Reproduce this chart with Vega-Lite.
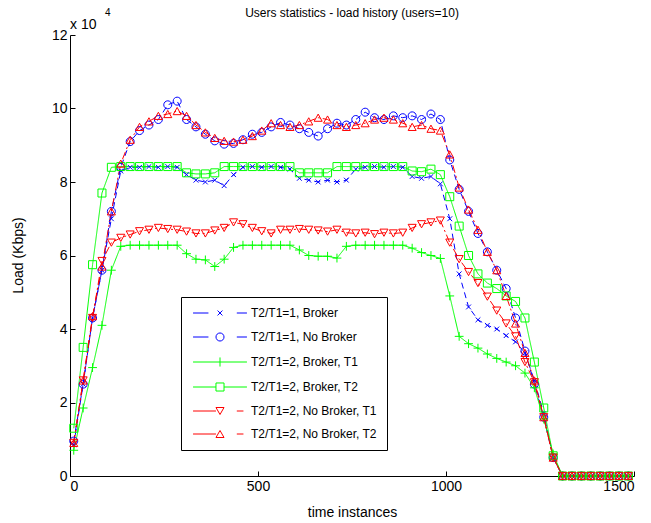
{
 "$schema": "https://vega.github.io/schema/vega-lite/v6.json",
 "width": 564, "height": 441,
 "autosize": {"type": "none"},
 "padding": {"left": 70, "top": 35, "right": 17, "bottom": 47},
 "background": "white",
 "config": {
  "view": {"stroke": null},
  "font": "Liberation Sans",
  "axis": {"grid": false, "domainColor": "black", "tickColor": "black", "labelColor": "black", "titleColor": "black", "labelFont": "Liberation Sans", "titleFont": "Liberation Sans", "labelFontSize": 14, "titleFontSize": 14, "titleFontWeight": "normal", "tickSize": -5, "domainWidth": 1, "tickWidth": 1}
 },
 "datasets": {
  "load": [
   {"s":"T2/T1=1, Broker","t":10,"v":8500},{"s":"T2/T1=1, Broker","t":35,"v":25000},{"s":"T2/T1=1, Broker","t":60,"v":43000},{"s":"T2/T1=1, Broker","t":85,"v":56000},{"s":"T2/T1=1, Broker","t":110,"v":70000},{"s":"T2/T1=1, Broker","t":135,"v":83000},{"s":"T2/T1=1, Broker","t":160,"v":84000},{"s":"T2/T1=1, Broker","t":185,"v":84000},{"s":"T2/T1=1, Broker","t":210,"v":84200},{"s":"T2/T1=1, Broker","t":235,"v":84000},{"s":"T2/T1=1, Broker","t":260,"v":84200},{"s":"T2/T1=1, Broker","t":285,"v":84000},{"s":"T2/T1=1, Broker","t":310,"v":82000},{"s":"T2/T1=1, Broker","t":335,"v":80500},{"s":"T2/T1=1, Broker","t":360,"v":80000},{"s":"T2/T1=1, Broker","t":385,"v":80500},{"s":"T2/T1=1, Broker","t":410,"v":79000},{"s":"T2/T1=1, Broker","t":435,"v":82000},{"s":"T2/T1=1, Broker","t":460,"v":84000},{"s":"T2/T1=1, Broker","t":485,"v":84200},{"s":"T2/T1=1, Broker","t":510,"v":84000},{"s":"T2/T1=1, Broker","t":535,"v":84200},{"s":"T2/T1=1, Broker","t":560,"v":84000},{"s":"T2/T1=1, Broker","t":585,"v":83500},{"s":"T2/T1=1, Broker","t":610,"v":81000},{"s":"T2/T1=1, Broker","t":635,"v":80500},{"s":"T2/T1=1, Broker","t":660,"v":80000},{"s":"T2/T1=1, Broker","t":685,"v":80500},{"s":"T2/T1=1, Broker","t":710,"v":80000},{"s":"T2/T1=1, Broker","t":735,"v":80500},{"s":"T2/T1=1, Broker","t":760,"v":83500},{"s":"T2/T1=1, Broker","t":785,"v":84000},{"s":"T2/T1=1, Broker","t":810,"v":84200},{"s":"T2/T1=1, Broker","t":835,"v":84000},{"s":"T2/T1=1, Broker","t":860,"v":84200},{"s":"T2/T1=1, Broker","t":885,"v":84000},{"s":"T2/T1=1, Broker","t":910,"v":81500},{"s":"T2/T1=1, Broker","t":935,"v":81000},{"s":"T2/T1=1, Broker","t":960,"v":81500},{"s":"T2/T1=1, Broker","t":985,"v":79500},{"s":"T2/T1=1, Broker","t":1010,"v":70000},{"s":"T2/T1=1, Broker","t":1035,"v":55000},{"s":"T2/T1=1, Broker","t":1060,"v":46000},{"s":"T2/T1=1, Broker","t":1085,"v":42500},{"s":"T2/T1=1, Broker","t":1110,"v":41000},{"s":"T2/T1=1, Broker","t":1135,"v":40000},{"s":"T2/T1=1, Broker","t":1160,"v":38200},{"s":"T2/T1=1, Broker","t":1185,"v":36500},{"s":"T2/T1=1, Broker","t":1210,"v":33500},{"s":"T2/T1=1, Broker","t":1235,"v":26000},{"s":"T2/T1=1, Broker","t":1260,"v":17000},{"s":"T2/T1=1, Broker","t":1285,"v":5000},{"s":"T2/T1=1, Broker","t":1310,"v":0},{"s":"T2/T1=1, Broker","t":1335,"v":0},{"s":"T2/T1=1, Broker","t":1360,"v":0},{"s":"T2/T1=1, Broker","t":1385,"v":0},{"s":"T2/T1=1, Broker","t":1410,"v":0},{"s":"T2/T1=1, Broker","t":1435,"v":0},{"s":"T2/T1=1, Broker","t":1460,"v":0},{"s":"T2/T1=1, Broker","t":1485,"v":0},
   {"s":"T2/T1=1, No Broker","t":10,"v":9500},{"s":"T2/T1=1, No Broker","t":35,"v":25000},{"s":"T2/T1=1, No Broker","t":60,"v":43000},{"s":"T2/T1=1, No Broker","t":85,"v":56000},{"s":"T2/T1=1, No Broker","t":110,"v":72000},{"s":"T2/T1=1, No Broker","t":135,"v":84000},{"s":"T2/T1=1, No Broker","t":160,"v":91000},{"s":"T2/T1=1, No Broker","t":185,"v":94000},{"s":"T2/T1=1, No Broker","t":210,"v":95500},{"s":"T2/T1=1, No Broker","t":235,"v":97000},{"s":"T2/T1=1, No Broker","t":260,"v":101000},{"s":"T2/T1=1, No Broker","t":285,"v":102000},{"s":"T2/T1=1, No Broker","t":310,"v":97000},{"s":"T2/T1=1, No Broker","t":335,"v":95000},{"s":"T2/T1=1, No Broker","t":360,"v":93000},{"s":"T2/T1=1, No Broker","t":385,"v":91200},{"s":"T2/T1=1, No Broker","t":410,"v":90300},{"s":"T2/T1=1, No Broker","t":435,"v":90500},{"s":"T2/T1=1, No Broker","t":460,"v":91500},{"s":"T2/T1=1, No Broker","t":485,"v":93000},{"s":"T2/T1=1, No Broker","t":510,"v":93500},{"s":"T2/T1=1, No Broker","t":535,"v":95000},{"s":"T2/T1=1, No Broker","t":560,"v":96200},{"s":"T2/T1=1, No Broker","t":585,"v":95500},{"s":"T2/T1=1, No Broker","t":610,"v":94500},{"s":"T2/T1=1, No Broker","t":635,"v":93500},{"s":"T2/T1=1, No Broker","t":660,"v":92500},{"s":"T2/T1=1, No Broker","t":685,"v":94500},{"s":"T2/T1=1, No Broker","t":710,"v":96000},{"s":"T2/T1=1, No Broker","t":735,"v":95500},{"s":"T2/T1=1, No Broker","t":760,"v":97000},{"s":"T2/T1=1, No Broker","t":785,"v":99000},{"s":"T2/T1=1, No Broker","t":810,"v":97500},{"s":"T2/T1=1, No Broker","t":835,"v":97000},{"s":"T2/T1=1, No Broker","t":860,"v":98000},{"s":"T2/T1=1, No Broker","t":885,"v":97500},{"s":"T2/T1=1, No Broker","t":910,"v":98000},{"s":"T2/T1=1, No Broker","t":935,"v":97000},{"s":"T2/T1=1, No Broker","t":960,"v":98500},{"s":"T2/T1=1, No Broker","t":985,"v":97000},{"s":"T2/T1=1, No Broker","t":1010,"v":86000},{"s":"T2/T1=1, No Broker","t":1035,"v":78000},{"s":"T2/T1=1, No Broker","t":1060,"v":72000},{"s":"T2/T1=1, No Broker","t":1085,"v":66000},{"s":"T2/T1=1, No Broker","t":1110,"v":61000},{"s":"T2/T1=1, No Broker","t":1135,"v":56000},{"s":"T2/T1=1, No Broker","t":1160,"v":51000},{"s":"T2/T1=1, No Broker","t":1185,"v":43000},{"s":"T2/T1=1, No Broker","t":1210,"v":34000},{"s":"T2/T1=1, No Broker","t":1235,"v":25000},{"s":"T2/T1=1, No Broker","t":1260,"v":16000},{"s":"T2/T1=1, No Broker","t":1285,"v":5000},{"s":"T2/T1=1, No Broker","t":1310,"v":0},{"s":"T2/T1=1, No Broker","t":1335,"v":0},{"s":"T2/T1=1, No Broker","t":1360,"v":0},{"s":"T2/T1=1, No Broker","t":1385,"v":0},{"s":"T2/T1=1, No Broker","t":1410,"v":0},{"s":"T2/T1=1, No Broker","t":1435,"v":0},{"s":"T2/T1=1, No Broker","t":1460,"v":0},{"s":"T2/T1=1, No Broker","t":1485,"v":0},
   {"s":"T2/T1=2, Broker, T1","t":10,"v":7000},{"s":"T2/T1=2, Broker, T1","t":35,"v":18500},{"s":"T2/T1=2, Broker, T1","t":60,"v":29500},{"s":"T2/T1=2, Broker, T1","t":85,"v":41000},{"s":"T2/T1=2, Broker, T1","t":110,"v":56000},{"s":"T2/T1=2, Broker, T1","t":135,"v":62500},{"s":"T2/T1=2, Broker, T1","t":160,"v":62800},{"s":"T2/T1=2, Broker, T1","t":185,"v":62800},{"s":"T2/T1=2, Broker, T1","t":210,"v":62800},{"s":"T2/T1=2, Broker, T1","t":235,"v":62800},{"s":"T2/T1=2, Broker, T1","t":260,"v":62800},{"s":"T2/T1=2, Broker, T1","t":285,"v":62800},{"s":"T2/T1=2, Broker, T1","t":310,"v":60500},{"s":"T2/T1=2, Broker, T1","t":335,"v":59000},{"s":"T2/T1=2, Broker, T1","t":360,"v":58800},{"s":"T2/T1=2, Broker, T1","t":385,"v":57000},{"s":"T2/T1=2, Broker, T1","t":410,"v":59000},{"s":"T2/T1=2, Broker, T1","t":435,"v":62200},{"s":"T2/T1=2, Broker, T1","t":460,"v":62800},{"s":"T2/T1=2, Broker, T1","t":485,"v":62800},{"s":"T2/T1=2, Broker, T1","t":510,"v":62800},{"s":"T2/T1=2, Broker, T1","t":535,"v":62800},{"s":"T2/T1=2, Broker, T1","t":560,"v":62800},{"s":"T2/T1=2, Broker, T1","t":585,"v":62800},{"s":"T2/T1=2, Broker, T1","t":610,"v":61500},{"s":"T2/T1=2, Broker, T1","t":635,"v":60000},{"s":"T2/T1=2, Broker, T1","t":660,"v":59800},{"s":"T2/T1=2, Broker, T1","t":685,"v":59800},{"s":"T2/T1=2, Broker, T1","t":710,"v":59300},{"s":"T2/T1=2, Broker, T1","t":735,"v":62500},{"s":"T2/T1=2, Broker, T1","t":760,"v":62800},{"s":"T2/T1=2, Broker, T1","t":785,"v":62800},{"s":"T2/T1=2, Broker, T1","t":810,"v":62800},{"s":"T2/T1=2, Broker, T1","t":835,"v":62800},{"s":"T2/T1=2, Broker, T1","t":860,"v":62800},{"s":"T2/T1=2, Broker, T1","t":885,"v":62800},{"s":"T2/T1=2, Broker, T1","t":910,"v":62000},{"s":"T2/T1=2, Broker, T1","t":935,"v":60800},{"s":"T2/T1=2, Broker, T1","t":960,"v":60000},{"s":"T2/T1=2, Broker, T1","t":985,"v":59200},{"s":"T2/T1=2, Broker, T1","t":1010,"v":49000},{"s":"T2/T1=2, Broker, T1","t":1035,"v":38000},{"s":"T2/T1=2, Broker, T1","t":1060,"v":36000},{"s":"T2/T1=2, Broker, T1","t":1085,"v":34800},{"s":"T2/T1=2, Broker, T1","t":1110,"v":33200},{"s":"T2/T1=2, Broker, T1","t":1135,"v":32000},{"s":"T2/T1=2, Broker, T1","t":1160,"v":31000},{"s":"T2/T1=2, Broker, T1","t":1185,"v":30000},{"s":"T2/T1=2, Broker, T1","t":1210,"v":28000},{"s":"T2/T1=2, Broker, T1","t":1235,"v":24000},{"s":"T2/T1=2, Broker, T1","t":1260,"v":15500},{"s":"T2/T1=2, Broker, T1","t":1285,"v":6000},{"s":"T2/T1=2, Broker, T1","t":1310,"v":0},{"s":"T2/T1=2, Broker, T1","t":1335,"v":0},{"s":"T2/T1=2, Broker, T1","t":1360,"v":0},{"s":"T2/T1=2, Broker, T1","t":1385,"v":0},{"s":"T2/T1=2, Broker, T1","t":1410,"v":0},{"s":"T2/T1=2, Broker, T1","t":1435,"v":0},{"s":"T2/T1=2, Broker, T1","t":1460,"v":0},{"s":"T2/T1=2, Broker, T1","t":1485,"v":0},
   {"s":"T2/T1=2, Broker, T2","t":10,"v":13000},{"s":"T2/T1=2, Broker, T2","t":35,"v":35000},{"s":"T2/T1=2, Broker, T2","t":60,"v":57500},{"s":"T2/T1=2, Broker, T2","t":85,"v":77000},{"s":"T2/T1=2, Broker, T2","t":110,"v":84000},{"s":"T2/T1=2, Broker, T2","t":135,"v":84200},{"s":"T2/T1=2, Broker, T2","t":160,"v":84200},{"s":"T2/T1=2, Broker, T2","t":185,"v":84200},{"s":"T2/T1=2, Broker, T2","t":210,"v":84200},{"s":"T2/T1=2, Broker, T2","t":235,"v":84200},{"s":"T2/T1=2, Broker, T2","t":260,"v":84200},{"s":"T2/T1=2, Broker, T2","t":285,"v":84200},{"s":"T2/T1=2, Broker, T2","t":310,"v":82500},{"s":"T2/T1=2, Broker, T2","t":335,"v":82200},{"s":"T2/T1=2, Broker, T2","t":360,"v":82200},{"s":"T2/T1=2, Broker, T2","t":385,"v":82500},{"s":"T2/T1=2, Broker, T2","t":410,"v":84200},{"s":"T2/T1=2, Broker, T2","t":435,"v":84200},{"s":"T2/T1=2, Broker, T2","t":460,"v":84200},{"s":"T2/T1=2, Broker, T2","t":485,"v":84200},{"s":"T2/T1=2, Broker, T2","t":510,"v":84200},{"s":"T2/T1=2, Broker, T2","t":535,"v":84200},{"s":"T2/T1=2, Broker, T2","t":560,"v":84200},{"s":"T2/T1=2, Broker, T2","t":585,"v":84200},{"s":"T2/T1=2, Broker, T2","t":610,"v":82500},{"s":"T2/T1=2, Broker, T2","t":635,"v":82500},{"s":"T2/T1=2, Broker, T2","t":660,"v":82500},{"s":"T2/T1=2, Broker, T2","t":685,"v":82500},{"s":"T2/T1=2, Broker, T2","t":710,"v":84200},{"s":"T2/T1=2, Broker, T2","t":735,"v":84200},{"s":"T2/T1=2, Broker, T2","t":760,"v":84200},{"s":"T2/T1=2, Broker, T2","t":785,"v":84200},{"s":"T2/T1=2, Broker, T2","t":810,"v":84200},{"s":"T2/T1=2, Broker, T2","t":835,"v":84200},{"s":"T2/T1=2, Broker, T2","t":860,"v":84200},{"s":"T2/T1=2, Broker, T2","t":885,"v":84200},{"s":"T2/T1=2, Broker, T2","t":910,"v":83000},{"s":"T2/T1=2, Broker, T2","t":935,"v":82800},{"s":"T2/T1=2, Broker, T2","t":960,"v":83500},{"s":"T2/T1=2, Broker, T2","t":985,"v":82000},{"s":"T2/T1=2, Broker, T2","t":1010,"v":76000},{"s":"T2/T1=2, Broker, T2","t":1035,"v":68000},{"s":"T2/T1=2, Broker, T2","t":1060,"v":60000},{"s":"T2/T1=2, Broker, T2","t":1085,"v":55000},{"s":"T2/T1=2, Broker, T2","t":1110,"v":52500},{"s":"T2/T1=2, Broker, T2","t":1135,"v":51000},{"s":"T2/T1=2, Broker, T2","t":1160,"v":49000},{"s":"T2/T1=2, Broker, T2","t":1185,"v":47500},{"s":"T2/T1=2, Broker, T2","t":1210,"v":43000},{"s":"T2/T1=2, Broker, T2","t":1235,"v":31000},{"s":"T2/T1=2, Broker, T2","t":1260,"v":18500},{"s":"T2/T1=2, Broker, T2","t":1285,"v":5500},{"s":"T2/T1=2, Broker, T2","t":1310,"v":0},{"s":"T2/T1=2, Broker, T2","t":1335,"v":0},{"s":"T2/T1=2, Broker, T2","t":1360,"v":0},{"s":"T2/T1=2, Broker, T2","t":1385,"v":0},{"s":"T2/T1=2, Broker, T2","t":1410,"v":0},{"s":"T2/T1=2, Broker, T2","t":1435,"v":0},{"s":"T2/T1=2, Broker, T2","t":1460,"v":0},{"s":"T2/T1=2, Broker, T2","t":1485,"v":0},
   {"s":"T2/T1=2, No Broker, T1","t":10,"v":9000},{"s":"T2/T1=2, No Broker, T1","t":35,"v":26000},{"s":"T2/T1=2, No Broker, T1","t":60,"v":43000},{"s":"T2/T1=2, No Broker, T1","t":85,"v":58500},{"s":"T2/T1=2, No Broker, T1","t":110,"v":63500},{"s":"T2/T1=2, No Broker, T1","t":135,"v":64800},{"s":"T2/T1=2, No Broker, T1","t":160,"v":65700},{"s":"T2/T1=2, No Broker, T1","t":185,"v":66600},{"s":"T2/T1=2, No Broker, T1","t":210,"v":67000},{"s":"T2/T1=2, No Broker, T1","t":235,"v":67500},{"s":"T2/T1=2, No Broker, T1","t":260,"v":67200},{"s":"T2/T1=2, No Broker, T1","t":285,"v":67000},{"s":"T2/T1=2, No Broker, T1","t":310,"v":66500},{"s":"T2/T1=2, No Broker, T1","t":335,"v":66000},{"s":"T2/T1=2, No Broker, T1","t":360,"v":66000},{"s":"T2/T1=2, No Broker, T1","t":385,"v":66800},{"s":"T2/T1=2, No Broker, T1","t":410,"v":67500},{"s":"T2/T1=2, No Broker, T1","t":435,"v":69000},{"s":"T2/T1=2, No Broker, T1","t":460,"v":68500},{"s":"T2/T1=2, No Broker, T1","t":485,"v":67500},{"s":"T2/T1=2, No Broker, T1","t":510,"v":66600},{"s":"T2/T1=2, No Broker, T1","t":535,"v":66000},{"s":"T2/T1=2, No Broker, T1","t":560,"v":67000},{"s":"T2/T1=2, No Broker, T1","t":585,"v":67000},{"s":"T2/T1=2, No Broker, T1","t":610,"v":67200},{"s":"T2/T1=2, No Broker, T1","t":635,"v":67000},{"s":"T2/T1=2, No Broker, T1","t":660,"v":66800},{"s":"T2/T1=2, No Broker, T1","t":685,"v":66500},{"s":"T2/T1=2, No Broker, T1","t":710,"v":67000},{"s":"T2/T1=2, No Broker, T1","t":735,"v":66200},{"s":"T2/T1=2, No Broker, T1","t":760,"v":66000},{"s":"T2/T1=2, No Broker, T1","t":785,"v":66200},{"s":"T2/T1=2, No Broker, T1","t":810,"v":65800},{"s":"T2/T1=2, No Broker, T1","t":835,"v":66200},{"s":"T2/T1=2, No Broker, T1","t":860,"v":66000},{"s":"T2/T1=2, No Broker, T1","t":885,"v":66200},{"s":"T2/T1=2, No Broker, T1","t":910,"v":67500},{"s":"T2/T1=2, No Broker, T1","t":935,"v":68500},{"s":"T2/T1=2, No Broker, T1","t":960,"v":69000},{"s":"T2/T1=2, No Broker, T1","t":985,"v":69500},{"s":"T2/T1=2, No Broker, T1","t":1010,"v":63500},{"s":"T2/T1=2, No Broker, T1","t":1035,"v":59000},{"s":"T2/T1=2, No Broker, T1","t":1060,"v":55500},{"s":"T2/T1=2, No Broker, T1","t":1085,"v":52500},{"s":"T2/T1=2, No Broker, T1","t":1110,"v":48800},{"s":"T2/T1=2, No Broker, T1","t":1135,"v":45000},{"s":"T2/T1=2, No Broker, T1","t":1160,"v":41500},{"s":"T2/T1=2, No Broker, T1","t":1185,"v":38000},{"s":"T2/T1=2, No Broker, T1","t":1210,"v":31000},{"s":"T2/T1=2, No Broker, T1","t":1235,"v":25500},{"s":"T2/T1=2, No Broker, T1","t":1260,"v":16000},{"s":"T2/T1=2, No Broker, T1","t":1285,"v":5000},{"s":"T2/T1=2, No Broker, T1","t":1310,"v":0},{"s":"T2/T1=2, No Broker, T1","t":1335,"v":0},{"s":"T2/T1=2, No Broker, T1","t":1360,"v":0},{"s":"T2/T1=2, No Broker, T1","t":1385,"v":0},{"s":"T2/T1=2, No Broker, T1","t":1410,"v":0},{"s":"T2/T1=2, No Broker, T1","t":1435,"v":0},{"s":"T2/T1=2, No Broker, T1","t":1460,"v":0},{"s":"T2/T1=2, No Broker, T1","t":1485,"v":0},
   {"s":"T2/T1=2, No Broker, T2","t":10,"v":9000},{"s":"T2/T1=2, No Broker, T2","t":35,"v":26000},{"s":"T2/T1=2, No Broker, T2","t":60,"v":43500},{"s":"T2/T1=2, No Broker, T2","t":85,"v":57000},{"s":"T2/T1=2, No Broker, T2","t":110,"v":72000},{"s":"T2/T1=2, No Broker, T2","t":135,"v":85000},{"s":"T2/T1=2, No Broker, T2","t":160,"v":91500},{"s":"T2/T1=2, No Broker, T2","t":185,"v":95000},{"s":"T2/T1=2, No Broker, T2","t":210,"v":96500},{"s":"T2/T1=2, No Broker, T2","t":235,"v":98000},{"s":"T2/T1=2, No Broker, T2","t":260,"v":98500},{"s":"T2/T1=2, No Broker, T2","t":285,"v":99300},{"s":"T2/T1=2, No Broker, T2","t":310,"v":98000},{"s":"T2/T1=2, No Broker, T2","t":335,"v":95500},{"s":"T2/T1=2, No Broker, T2","t":360,"v":93500},{"s":"T2/T1=2, No Broker, T2","t":385,"v":92000},{"s":"T2/T1=2, No Broker, T2","t":410,"v":91200},{"s":"T2/T1=2, No Broker, T2","t":435,"v":91000},{"s":"T2/T1=2, No Broker, T2","t":460,"v":91500},{"s":"T2/T1=2, No Broker, T2","t":485,"v":92500},{"s":"T2/T1=2, No Broker, T2","t":510,"v":94000},{"s":"T2/T1=2, No Broker, T2","t":535,"v":96000},{"s":"T2/T1=2, No Broker, T2","t":560,"v":95500},{"s":"T2/T1=2, No Broker, T2","t":585,"v":95000},{"s":"T2/T1=2, No Broker, T2","t":610,"v":95500},{"s":"T2/T1=2, No Broker, T2","t":635,"v":96500},{"s":"T2/T1=2, No Broker, T2","t":660,"v":97500},{"s":"T2/T1=2, No Broker, T2","t":685,"v":97000},{"s":"T2/T1=2, No Broker, T2","t":710,"v":95500},{"s":"T2/T1=2, No Broker, T2","t":735,"v":95000},{"s":"T2/T1=2, No Broker, T2","t":760,"v":95500},{"s":"T2/T1=2, No Broker, T2","t":785,"v":96000},{"s":"T2/T1=2, No Broker, T2","t":810,"v":97000},{"s":"T2/T1=2, No Broker, T2","t":835,"v":97500},{"s":"T2/T1=2, No Broker, T2","t":860,"v":97000},{"s":"T2/T1=2, No Broker, T2","t":885,"v":96000},{"s":"T2/T1=2, No Broker, T2","t":910,"v":95000},{"s":"T2/T1=2, No Broker, T2","t":935,"v":95500},{"s":"T2/T1=2, No Broker, T2","t":960,"v":94500},{"s":"T2/T1=2, No Broker, T2","t":985,"v":94000},{"s":"T2/T1=2, No Broker, T2","t":1010,"v":87500},{"s":"T2/T1=2, No Broker, T2","t":1035,"v":78500},{"s":"T2/T1=2, No Broker, T2","t":1060,"v":72500},{"s":"T2/T1=2, No Broker, T2","t":1085,"v":67000},{"s":"T2/T1=2, No Broker, T2","t":1110,"v":61000},{"s":"T2/T1=2, No Broker, T2","t":1135,"v":56000},{"s":"T2/T1=2, No Broker, T2","t":1160,"v":49000},{"s":"T2/T1=2, No Broker, T2","t":1185,"v":41500},{"s":"T2/T1=2, No Broker, T2","t":1210,"v":33500},{"s":"T2/T1=2, No Broker, T2","t":1235,"v":26000},{"s":"T2/T1=2, No Broker, T2","t":1260,"v":16000},{"s":"T2/T1=2, No Broker, T2","t":1285,"v":5000},{"s":"T2/T1=2, No Broker, T2","t":1310,"v":0},{"s":"T2/T1=2, No Broker, T2","t":1335,"v":0},{"s":"T2/T1=2, No Broker, T2","t":1360,"v":0},{"s":"T2/T1=2, No Broker, T2","t":1385,"v":0},{"s":"T2/T1=2, No Broker, T2","t":1410,"v":0},{"s":"T2/T1=2, No Broker, T2","t":1435,"v":0},{"s":"T2/T1=2, No Broker, T2","t":1460,"v":0},{"s":"T2/T1=2, No Broker, T2","t":1485,"v":0}
  ],
  "note": [{"label": "x 10", "power": "4", "title": "Users statistics - load history (users=10)"}]
 },
 "data": {"name": "load"},
 "layer": [
  {
   "mark": {"type": "line", "strokeWidth": 1, "clip": false},
   "encoding": {
    "x": {"field": "t", "type": "quantitative", "scale": {"domain": [0, 1500], "nice": false, "zero": false},
          "axis": {"values": [0, 500, 1000, 1500], "format": "d", "title": "time instances", "labelPadding": 8, "titleX": 282, "titleY": 36, "titleAlign": "center", "titleBaseline": "middle"}},
    "y": {"field": "v", "type": "quantitative", "scale": {"domain": [0, 120000], "nice": false},
          "axis": {"values": [0, 20000, 40000, 60000, 80000, 100000, 120000], "labelExpr": "format(datum.value / 10000, 'd')", "title": "Load (Kbps)", "labelPadding": 8, "titleX": -52, "titleY": 220, "titleAngle": -90, "titleAlign": "center", "titleBaseline": "middle"}},
    "color": {"field": "s", "type": "nominal", "legend": null,
              "scale": {"domain": ["T2/T1=1, Broker", "T2/T1=1, No Broker", "T2/T1=2, Broker, T1", "T2/T1=2, Broker, T2", "T2/T1=2, No Broker, T1", "T2/T1=2, No Broker, T2"],
                        "range": ["#0000ff", "#0000ff", "#00ff00", "#00ff00", "#ff0000", "#ff0000"]}},
    "strokeDash": {"field": "s", "type": "nominal", "legend": null,
              "scale": {"domain": ["T2/T1=1, Broker", "T2/T1=1, No Broker", "T2/T1=2, Broker, T1", "T2/T1=2, Broker, T2", "T2/T1=2, No Broker, T1", "T2/T1=2, No Broker, T2"],
                        "range": [[6, 4], [6, 4], [1, 0], [1, 0], [8, 3, 2, 3], [8, 3, 2, 3]]}}
   }
  },
  {
   "mark": {"type": "point", "filled": false, "size": 64, "strokeWidth": 1, "opacity": 1, "clip": false},
   "encoding": {
    "x": {"field": "t", "type": "quantitative"},
    "y": {"field": "v", "type": "quantitative"},
    "color": {"field": "s", "type": "nominal", "legend": null,
              "scale": {"domain": ["T2/T1=1, Broker", "T2/T1=1, No Broker", "T2/T1=2, Broker, T1", "T2/T1=2, Broker, T2", "T2/T1=2, No Broker, T1", "T2/T1=2, No Broker, T2"],
                        "range": ["#0000ff", "#0000ff", "#00ff00", "#00ff00", "#ff0000", "#ff0000"]}},
    "shape": {"field": "s", "type": "nominal", "legend": null,
              "scale": {"domain": ["T2/T1=1, Broker", "T2/T1=1, No Broker", "T2/T1=2, Broker, T1", "T2/T1=2, Broker, T2", "T2/T1=2, No Broker, T1", "T2/T1=2, No Broker, T2"],
                        "range": ["M-0.6,-0.6L0.6,0.6M-0.6,0.6L0.6,-0.6", "M1,0A1,1,0,1,1,-1,0A1,1,0,1,1,1,0Z", "M-1.1,0H1.1M0,-1.1V1.1", "M-1,-1H1V1H-1Z", "M-1,-0.9H1L0,0.9Z", "M0,-0.9L1,0.9H-1Z"]}}
   }
  },
  {
   "mark": {"type": "point", "filled": false, "opacity": 0},
   "encoding": {
    "x": {"field": "t", "type": "quantitative"},
    "y": {"field": "v", "type": "quantitative"},
    "color": {"field": "s", "type": "nominal",
              "scale": {"domain": ["T2/T1=1, Broker", "T2/T1=1, No Broker", "T2/T1=2, Broker, T1", "T2/T1=2, Broker, T2", "T2/T1=2, No Broker, T1", "T2/T1=2, No Broker, T2"],
                        "range": ["#0000ff", "#0000ff", "#00ff00", "#00ff00", "#ff0000", "#ff0000"]},
              "legend": {"title": null, "orient": "none", "legendX": 111, "legendY": 262, "fillColor": "white", "strokeColor": "black", "padding": 10, "symbolSize": 49, "symbolStrokeWidth": 1, "symbolOffset": 23, "labelOffset": 25, "labelFontSize": 12, "labelFont": "Liberation Sans", "labelColor": "black", "rowPadding": 11, "labelLimit": 300}},
    "shape": {"field": "s", "type": "nominal",
              "scale": {"domain": ["T2/T1=1, Broker", "T2/T1=1, No Broker", "T2/T1=2, Broker, T1", "T2/T1=2, Broker, T2", "T2/T1=2, No Broker, T1", "T2/T1=2, No Broker, T2"],
                        "range": ["M-7.7,0H-3.3M-0.7,-0.7L0.7,0.7M-0.7,0.7L0.7,-0.7M4.8,0H7.7", "M-7.7,0H-3.3M1.15,0A1.15,1.15,0,1,1,-1.15,0A1.15,1.15,0,1,1,1.15,0ZM4.8,0H7.7", "M-7.7,0H7.7M0,-1.3V1.3", "M-7.7,0H-1.15M1.15,0H7.7M-1.15,-1.15H1.15V1.15H-1.15Z", "M-7.7,0H-1.15M4.8,0H6.7M-1.15,-1H1.15L0,1Z", "M-7.7,0H-1.15M4.8,0H6.7M0,-1L1.15,1H-1.15Z"]},
              "legend": {"title": null, "orient": "none", "legendX": 111, "legendY": 262, "fillColor": "white", "strokeColor": "black", "padding": 10, "symbolSize": 49, "symbolStrokeWidth": 1, "symbolOffset": 23, "labelOffset": 25, "labelFontSize": 12, "labelFont": "Liberation Sans", "labelColor": "black", "rowPadding": 11, "labelLimit": 300}}
   }
  },
  {
   "data": {"name": "note"},
   "mark": {"type": "text", "align": "left", "baseline": "alphabetic", "fontSize": 14, "font": "Liberation Sans", "color": "black", "dy": -6},
   "encoding": {"x": {"datum": 0, "type": "quantitative"}, "y": {"datum": 120000, "type": "quantitative"}, "text": {"field": "label"}}
  },
  {
   "data": {"name": "note"},
   "mark": {"type": "text", "align": "left", "baseline": "alphabetic", "fontSize": 10, "font": "Liberation Sans", "color": "black", "dx": 35, "dy": -19},
   "encoding": {"x": {"datum": 0, "type": "quantitative"}, "y": {"datum": 120000, "type": "quantitative"}, "text": {"field": "power"}}
  },
  {
   "data": {"name": "note"},
   "mark": {"type": "text", "align": "center", "baseline": "alphabetic", "fontSize": 12, "font": "Liberation Sans", "color": "black", "dy": -18},
   "encoding": {"x": {"datum": 750, "type": "quantitative"}, "y": {"datum": 120000, "type": "quantitative"}, "text": {"field": "title"}}
  }
 ],
 "resolve": {"scale": {"shape": "independent", "color": "independent"}}
}
